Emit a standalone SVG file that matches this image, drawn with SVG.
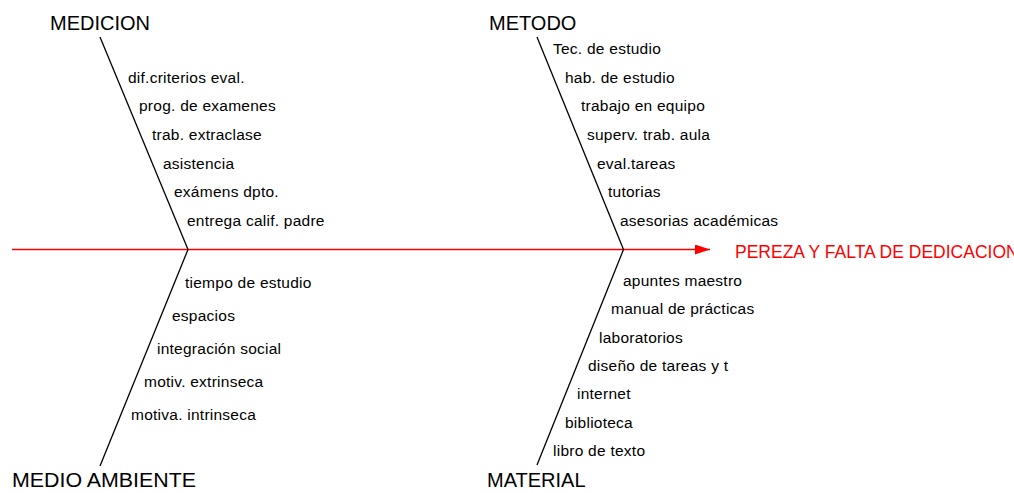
<svg xmlns="http://www.w3.org/2000/svg" width="1014" height="493" viewBox="0 0 1014 493">
<style>
.bg{fill:#fff}
.bone{stroke:#000;stroke-width:1.3;fill:none}
.spine{stroke:#ff0000;stroke-width:1.3;fill:none}
.cat{font-family:"Liberation Sans",Arial,sans-serif;font-size:20px;fill:#000}
.cause{font-family:"Liberation Sans",Arial,sans-serif;font-size:15.5px;letter-spacing:0.25px;fill:#000}
.head{font-family:"Liberation Sans",Arial,sans-serif;font-size:17.5px;fill:#ff0000}
</style>
<defs>
<marker id="arr" viewBox="0 0 15 10" refX="15" refY="5" markerWidth="15" markerHeight="10" markerUnits="userSpaceOnUse" orient="auto">
<path d="M0,0 L15,5 L0,10 Z" fill="#ff0000"/>
</marker>
</defs>
<rect class="bg" x="0" y="0" width="1014" height="493"/>
<g id="connectors">
<line class="spine" x1="12" y1="249.5" x2="710" y2="249.5" marker-end="url(#arr)"/>
<line class="bone" x1="100" y1="37" x2="188" y2="249.5"/>
<line class="bone" x1="188" y1="249.5" x2="100" y2="466"/>
<line class="bone" x1="537" y1="37" x2="623.5" y2="249.5"/>
<line class="bone" x1="623.5" y1="249.5" x2="537" y2="465"/>
</g>
<g id="effect">
<text class="head" x="735" y="258">PEREZA Y FALTA DE DEDICACION</text>
</g>
<g id="medicion">
<text class="cat" x="50" y="30">MEDICION</text>
<text class="cause" x="128" y="82.5">dif.criterios eval.</text>
<text class="cause" x="139" y="111">prog. de examenes</text>
<text class="cause" x="152" y="140">trab. extraclase</text>
<text class="cause" x="163" y="168.5">asistencia</text>
<text class="cause" x="174" y="197">exámens dpto.</text>
<text class="cause" x="187" y="226">entrega calif. padre</text>
</g>
<g id="medio-ambiente">
<text class="cat" x="12" y="487" textLength="184" lengthAdjust="spacingAndGlyphs">MEDIO AMBIENTE</text>
<text class="cause" x="185" y="288">tiempo de estudio</text>
<text class="cause" x="172" y="321">espacios</text>
<text class="cause" x="157" y="354">integración social</text>
<text class="cause" x="144" y="387">motiv. extrinseca</text>
<text class="cause" x="131" y="420">motiva. intrinseca</text>
</g>
<g id="metodo">
<text class="cat" x="489" y="30">METODO</text>
<text class="cause" x="553" y="54">Tec. de estudio</text>
<text class="cause" x="565" y="83">hab. de estudio</text>
<text class="cause" x="581" y="111">trabajo en equipo</text>
<text class="cause" x="587" y="140">superv. trab. aula</text>
<text class="cause" x="597" y="168.5">eval.tareas</text>
<text class="cause" x="608" y="197">tutorias</text>
<text class="cause" x="620" y="226">asesorias académicas</text>
</g>
<g id="material">
<text class="cat" x="487" y="487">MATERIAL</text>
<text class="cause" x="623" y="286">apuntes maestro</text>
<text class="cause" x="611" y="314">manual de prácticas</text>
<text class="cause" x="599" y="343">laboratorios</text>
<text class="cause" x="588" y="371">diseño de tareas y t</text>
<text class="cause" x="577" y="399">internet</text>
<text class="cause" x="565" y="428">biblioteca</text>
<text class="cause" x="553" y="456">libro de texto</text>
</g>
</svg>
